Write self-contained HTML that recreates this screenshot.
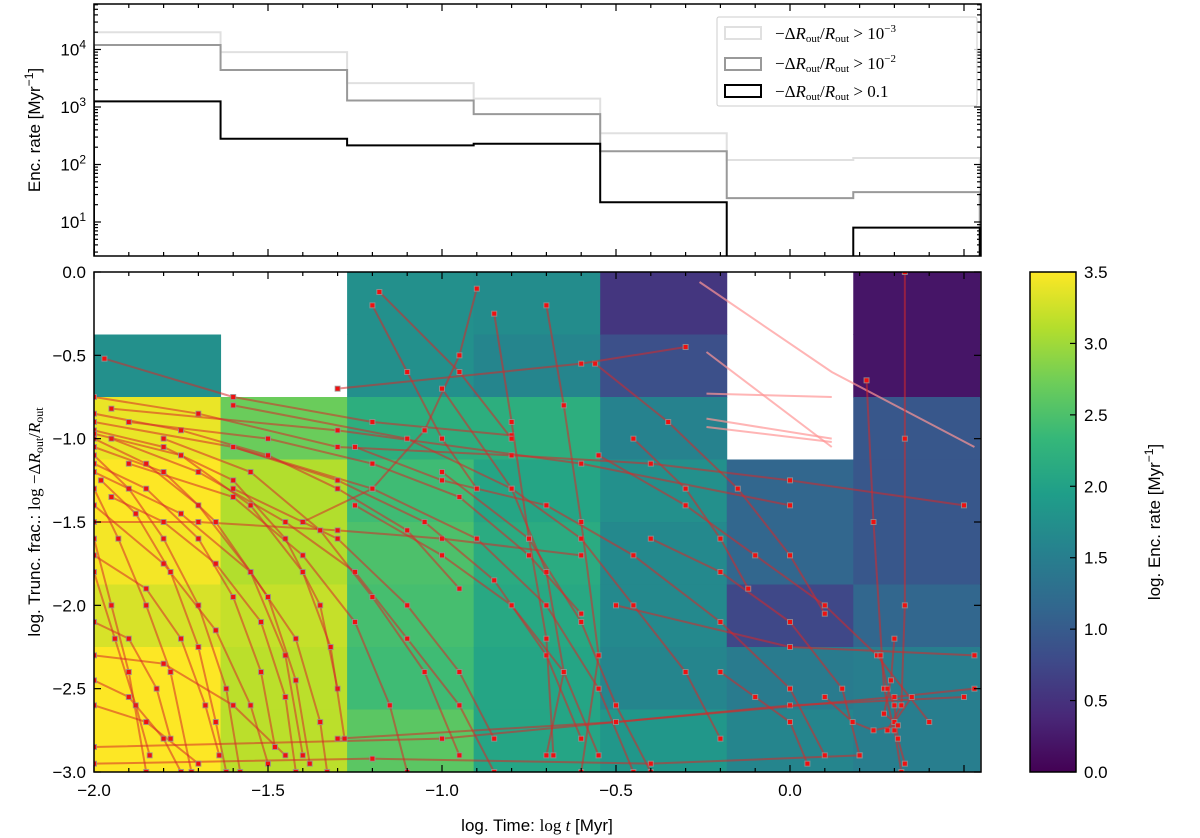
<!DOCTYPE html>
<html><head><meta charset="utf-8">
<style>
body{margin:0;background:#fff;}
svg{display:block;font-family:"Liberation Sans",sans-serif;}
.tl{font-size:17px;fill:#000;}
.m{font-family:"Liberation Serif",serif;}
</style></head>
<body>
<svg id="fig" width="1200" height="838" viewBox="0 0 1200 838" xmlns="http://www.w3.org/2000/svg">
<g id="heat"></g>
<g id="traj"></g>
<g id="steps"></g>
<g id="axes"></g>
<g id="cbar"></g>
<g>
<rect x="717" y="17" width="260" height="89" fill="#fff" fill-opacity="0.8" stroke="#ccc" rx="2"/>
<rect x="725" y="27" width="36" height="12" fill="none" stroke="#e0e0e0" stroke-width="2"/>
<text x="775" y="39" font-size="17" class="m">−Δ<tspan font-style="italic">R</tspan><tspan font-size="11" dy="3">out</tspan><tspan dy="-3">/</tspan><tspan font-style="italic">R</tspan><tspan font-size="11" dy="3">out</tspan><tspan dy="-3"> &gt; 10</tspan><tspan font-size="11" dy="-7">−3</tspan></text>
<rect x="725" y="58" width="36" height="12" fill="none" stroke="#999" stroke-width="2"/>
<text x="775" y="69" font-size="17" class="m">−Δ<tspan font-style="italic">R</tspan><tspan font-size="11" dy="3">out</tspan><tspan dy="-3">/</tspan><tspan font-style="italic">R</tspan><tspan font-size="11" dy="3">out</tspan><tspan dy="-3"> &gt; 10</tspan><tspan font-size="11" dy="-7">−2</tspan></text>
<rect x="725" y="85" width="36" height="12" fill="none" stroke="#000" stroke-width="2"/>
<text x="775" y="97" font-size="17" class="m">−Δ<tspan font-style="italic">R</tspan><tspan font-size="11" dy="3">out</tspan><tspan dy="-3">/</tspan><tspan font-style="italic">R</tspan><tspan font-size="11" dy="3">out</tspan><tspan dy="-3"> &gt; 0.1</tspan></text>
</g>
<text class="tl" transform="translate(40,130) rotate(-90)" text-anchor="middle">Enc. rate [Myr<tspan font-size="12" dy="-7">−1</tspan><tspan dy="7">]</tspan></text>
<text class="tl" transform="translate(40,522) rotate(-90)" text-anchor="middle">log. Trunc. frac.: <tspan class="m">log −Δ</tspan><tspan class="m" font-style="italic">R</tspan><tspan class="m" font-size="12" dy="3">out</tspan><tspan class="m" dy="-3">/</tspan><tspan class="m" font-style="italic">R</tspan><tspan class="m" font-size="12" dy="3">out</tspan></text>
<text class="tl" x="537" y="831" text-anchor="middle">log. Time: <tspan class="m">log </tspan><tspan class="m" font-style="italic">t</tspan> [Myr]</text>
<text class="tl" transform="translate(1160,522) rotate(-90)" text-anchor="middle">log. Enc. rate [Myr<tspan font-size="12" dy="-7">−1</tspan><tspan dy="7">]</tspan></text>
</svg>
<script>
const NS="http://www.w3.org/2000/svg";
// ---- data ----
const binEdges=[-2.0,-1.6363,-1.2727,-0.9090,-0.5454,-0.1818,0.1818,0.5454];
const rowEdges=[0,-0.375,-0.75,-1.125,-1.5,-1.875,-2.25,-2.625,-3.0];
const heatCol0=[null,1.75,3.4,3.5,3.45,3.3,3.5,3.5];
const heatCol1=[null,null,2.7,3.1,3.1,3.2,3.15,3.15];
const heatCol2=[1.75,1.75,2.2,2.4,2.5,2.45,2.4,2.6];
const heatCol3=[1.7,1.6,2.2,2.05,2.15,2.1,2.05,2.05];
const heatCol4=[0.55,0.85,1.55,1.75,1.65,1.65,1.6,1.85];
const heatCol5=[null,null,null,1.15,1.15,0.75,1.45,1.6];
const heatCol6=[0.2,0.2,0.95,0.95,0.95,1.15,1.5,1.5];
const rateLight=[20000,9000,2600,1400,350,120,130];
const rateMid=[12000,4400,1300,750,170,26,33];
const rateDark=[1250,280,215,230,22,0,8];
const xTicks=[-2.0,-1.5,-1.0,-0.5,0.0];
const xTickLabels=["−2.0","−1.5","−1.0","−0.5","0.0"];
const yTicks=[0,-0.5,-1.0,-1.5,-2.0,-2.5,-3.0];
const yTickLabels=["0.0","−0.5","−1.0","−1.5","−2.0","−2.5","−3.0"];
const cTicks=[0,0.5,1,1.5,2,2.5,3,3.5];
const cTickLabels=["0.0","0.5","1.0","1.5","2.0","2.5","3.0","3.5"];
const rTicks=[1,2,3,4];
const tracks=[
[[-2,-0.75],[-1.7,-0.85],[-1.3,-1.05],[-0.8,-1.1],[-0.4,-1.15],[0.0,-1.25],[0.5,-1.4]],
[[-1.97,-0.52],[-1.6,-0.75],[-1.2,-0.9],[-0.8,-0.98]],
[[-2,-0.95],[-1.8,-1.05],[-1.6,-1.25],[-1.45,-1.6],[-1.35,-2.0],[-1.3,-2.5]],
[[-2,-1.0],[-1.85,-1.15],[-1.7,-1.4],[-1.55,-1.8],[-1.45,-2.3],[-1.4,-2.9]],
[[-2,-1.1],[-1.9,-1.3],[-1.8,-1.6],[-1.7,-2.0],[-1.62,-2.5],[-1.58,-3]],
[[-2,-1.3],[-1.93,-1.6],[-1.85,-2.0],[-1.78,-2.4],[-1.72,-3]],
[[-2,-1.6],[-1.95,-2.0],[-1.9,-2.4],[-1.85,-3]],
[[-1.95,-1.0],[-1.7,-1.2],[-1.45,-1.5],[-1.25,-1.8],[-1.1,-2.2],[-0.95,-2.6],[-0.85,-3]],
[[-2,-0.9],[-1.6,-1.05],[-1.2,-1.3],[-0.9,-1.6],[-0.7,-2.0],[-0.55,-2.5],[-0.45,-3]],
[[-2,-1.2],[-1.75,-1.45],[-1.55,-1.8],[-1.42,-2.2],[-1.35,-2.7],[-1.33,-3]],
[[-1.95,-0.82],[-1.3,-0.95],[-0.6,-1.15],[0.0,-1.4]],
[[-2,-2.85],[-1.0,-2.8],[0.0,-2.6],[0.5,-2.55]],
[[-2,-2.95],[-1.2,-2.92],[-0.4,-2.95],[0.2,-2.9]],
[[-1.3,-2.8],[-0.5,-2.7],[0.3,-2.55],[0.53,-2.5]],
[[-1.6,-0.8],[-1.1,-1.0],[-0.8,-1.3],[-0.6,-1.6],[-0.45,-2.0],[-0.3,-2.4],[-0.2,-2.8]],
[[-0.56,-0.55],[-0.35,-0.9],[-0.15,-1.3],[0.0,-1.7],[0.1,-2.05]],
[[-0.55,-1.1],[-0.3,-1.4],[-0.1,-1.7],[0.1,-2.0],[0.25,-2.3],[0.4,-2.7]],
[[0.22,-0.65],[0.24,-1.5],[0.27,-2.5],[0.3,-2.75],[0.32,-3]],
[[0.33,0],[0.33,-1.0],[0.33,-2.0],[0.32,-2.6],[0.28,-2.75]],
[[-0.9,-0.1],[-0.95,-0.5],[-1.05,-0.95],[-1.2,-1.3],[-1.4,-1.5]],
[[-1.18,-0.12],[-0.95,-0.6],[-0.8,-1.0]],
[[-1.3,-0.7],[-0.6,-0.55],[-0.3,-0.45]],
[[-0.7,-0.2],[-0.65,-0.8],[-0.6,-1.5],[-0.55,-2.3],[-0.6,-3]],
[[-1.0,-1.2],[-0.75,-1.6],[-0.6,-2.1],[-0.5,-2.6],[-0.4,-3]],
[[-1.6,-1.3],[-1.3,-1.6],[-1.1,-2.0],[-0.95,-2.4],[-0.85,-2.8]],
[[-2,-1.5],[-1.7,-1.5],[-1.3,-1.55],[-1.0,-1.6],[-0.6,-1.7]],
[[-2,-2.3],[-1.8,-2.35],[-1.6,-2.6],[-1.45,-2.9]],
[[-0.4,-1.6],[-0.2,-1.8],[0.0,-2.1],[0.15,-2.5],[0.2,-2.9]],
[[-1.25,-1.05],[-1.0,-1.25],[-0.7,-1.4],[-0.45,-1.7],[-0.2,-2.1],[0.0,-2.5],[0.1,-2.9]],
[[-0.5,-2.0],[0.0,-2.25],[0.53,-2.3]],
[[-2,-2.6],[-1.85,-2.7],[-1.7,-2.95]],
[[-1.9,-1.15],[-1.6,-1.35],[-1.4,-1.7],[-1.25,-2.1],[-1.15,-2.6],[-1.1,-3]],
[[-2,-1.4],[-1.8,-1.75],[-1.65,-2.15],[-1.55,-2.6],[-1.5,-2.95]],
[[-1.0,-0.7],[-0.8,-1.3],[-0.7,-1.8],[-0.65,-2.4],[-0.7,-2.9]],
[[-2,-0.85],[-1.75,-0.95],[-1.5,-1.1],[-1.3,-1.3],[-1.1,-1.55],[-0.95,-1.9]],
[[-2,-1.05],[-1.8,-1.2],[-1.65,-1.5],[-1.5,-1.95],[-1.42,-2.45],[-1.38,-2.95]],
[[-1.98,-1.25],[-1.88,-1.45],[-1.78,-1.8],[-1.7,-2.25],[-1.65,-2.7],[-1.62,-3]],
[[-2,-1.8],[-1.94,-2.2],[-1.88,-2.6],[-1.84,-2.9]],
[[-2,-0.97],[-1.75,-1.1],[-1.55,-1.4],[-1.4,-1.8],[-1.32,-2.25],[-1.28,-2.8]],
[[-1.95,-1.35],[-1.8,-1.5],[-1.65,-1.75],[-1.52,-2.1],[-1.45,-2.55],[-1.42,-3]],
[[-2,-2.1],[-1.9,-2.2],[-1.82,-2.5],[-1.78,-2.8]],
[[-2,-1.15],[-1.85,-1.3],[-1.7,-1.6],[-1.6,-1.95],[-1.52,-2.4],[-1.48,-2.85]],
[[-1.9,-0.9],[-1.5,-1.0],[-1.2,-1.15],[-0.95,-1.35],[-0.75,-1.7],[-0.6,-2.05]],
[[-2,-1.7],[-1.85,-1.9],[-1.75,-2.2],[-1.68,-2.6],[-1.64,-2.9]],
[[-2,-2.45],[-1.9,-2.55],[-1.8,-2.8],[-1.75,-3]],
[[-1.8,-1.0],[-1.55,-1.2],[-1.35,-1.55],[-1.2,-1.95],[-1.05,-2.4],[-0.95,-2.9]],
[[-1.6,-1.05],[-1.3,-1.25],[-1.05,-1.5],[-0.85,-1.85],[-0.7,-2.3],[-0.6,-2.8]],
[[-1.25,-1.4],[-1.0,-1.7],[-0.8,-2.0],[-0.65,-2.4],[-0.55,-2.9]],
[[-1.2,-0.2],[-1.1,-0.6],[-1.0,-1.0],[-0.9,-1.3]],
[[-0.85,-0.25],[-0.8,-0.9],[-0.75,-1.6],[-0.7,-2.2],[-0.68,-2.9]],
[[0.26,-2.3],[0.28,-2.5],[0.3,-2.6],[0.31,-2.8],[0.33,-2.95]],
[[0.3,-2.2],[0.29,-2.45],[0.27,-2.65],[0.3,-2.7],[0.35,-2.55]],
[[0.1,-2.55],[0.18,-2.7],[0.24,-2.75],[0.31,-2.72]],
[[-0.45,-1.0],[-0.3,-1.3],[-0.2,-1.6],[-0.12,-1.9]],
[[-0.2,-2.4],[-0.1,-2.55],[0.0,-2.7],[0.05,-2.95]]
];
const pinkTracks=[
[[-0.26,-0.06],[0.12,-0.6],[0.53,-1.05]],
[[-0.24,-0.48],[0.12,-1.05]],
[[-0.24,-0.73],[0.12,-0.75]],
[[-0.24,-0.88],[0.12,-1.0]],
[[-0.24,-0.93],[0.12,-1.02]]
];
const heatCols=[heatCol0,heatCol1,heatCol2,heatCol3,heatCol4,heatCol5,heatCol6];
// ---- scales ----
const X0=94,X1=981,BY0=272,BY1=772,TY0=4,TY1=256;
const xs=v=>X0+(v+2)*348;
const ys=v=>BY0-v*166.67;
const ry=v=>222-(Math.log10(v)-1)*57.5;
const cy=v=>BY1-v/3.5*500;
const VIR=[[68,1,84],[72,40,120],[62,74,137],[49,104,142],[38,130,142],[31,158,137],[53,183,121],[109,205,89],[180,222,44],[253,231,37]];
function vir(t){t=Math.max(0,Math.min(1,t));const p=t*9,i=Math.min(8,Math.floor(p)),f=p-i;const a=VIR[i],b=VIR[i+1];return `rgb(${a.map((c,k)=>Math.round(c+(b[k]-c)*f)).join(',')})`;}
function el(tag,attrs,parent){const e=document.createElementNS(NS,tag);for(const k in attrs)e.setAttribute(k,attrs[k]);parent.appendChild(e);return e;}
const heat=document.getElementById('heat');
heatCols.forEach((col,ci)=>col.forEach((v,ri)=>{if(v===null)return;
 const x=xs(binEdges[ci]),x2=xs(binEdges[ci+1]),y=ys(rowEdges[ri]),y2=ys(rowEdges[ri+1]);
 const r=el('rect',{x:x,y:y,width:x2-x+0.5,height:y2-y+0.5,fill:vir(v/3.5)},heat);
 
 
}));
const fig=document.getElementById('fig');
const cpb=el('clipPath',{id:'botclip'},fig);el('rect',{x:X0,y:BY0,width:X1-X0,height:BY1-BY0},cpb);
const tg=document.getElementById('traj');tg.setAttribute('clip-path','url(#botclip)');
pinkTracks.forEach(t=>{const p=el('polyline',{points:t.map(q=>xs(q[0])+','+ys(q[1])).join(' '),fill:'none',stroke:'rgba(255,150,150,0.7)','stroke-width':2},tg);
 
 });
tracks.forEach(t=>{const p=el('polyline',{points:t.map(q=>xs(q[0])+','+ys(q[1])).join(' '),fill:'none',stroke:'rgba(215,40,40,0.55)','stroke-width':2},tg);
 
 
 t.forEach(q=>{const m=el('rect',{x:xs(q[0])-2.5,y:ys(q[1])-2.5,width:5,height:5,fill:'#f01010',stroke:'rgba(150,150,150,0.8)','stroke-width':1},tg);
  
  });});
const sg=document.getElementById('steps');
[[rateLight,'#e0e0e0'],[rateMid,'#999'],[rateDark,'#000']].forEach(([arr,c])=>{
 let d='';arr.forEach((v,i)=>{const y=v>0?ry(v):TY1+5;const xa=xs(binEdges[i]),xb=xs(binEdges[i+1]);
  d+=(i===0?`M${xa},${TY1+5}L${xa},${y}`:`L${xa},${y}`)+`L${xb},${y}`;});
 d+=`L${xs(binEdges[7])},${TY1+5}`;
 const p=el('path',{d:d,fill:'none',stroke:c,'stroke-width':2},sg);
 
 });
const cp=el('clipPath',{id:'topclip'},fig);el('rect',{x:X0,y:TY0,width:X1-X0,height:TY1-TY0},cp);sg.setAttribute('clip-path','url(#topclip)');
const ax=document.getElementById('axes');
function frame(y0,y1,name){const r=el('rect',{x:X0,y:y0,width:X1-X0,height:y1-y0,fill:'none',stroke:'#000','stroke-width':1.5},ax);
 
 }
frame(TY0,TY1,'top-panel-frame');frame(BY0,BY1,'bottom-panel-frame');
function line(x1,y1,x2,y2,w){el('line',{x1,y1,x2,y2,stroke:'#000','stroke-width':w||1},ax);}
for(let v=-2.0;v<=0.55;v+=0.1){const x=xs(Math.round(v*10)/10);const major=Math.abs(Math.round(v*10)%5)===0;const L=major?7:4;
 [[TY0,1],[TY1,-1],[BY0,1],[BY1,-1]].forEach(([y,s])=>line(x,y,x,y+s*L,1.2));}
xTicks.forEach((v,i)=>{const t=el('text',{x:xs(v),y:BY1+24,'text-anchor':'middle',class:'tl'},ax);t.textContent=xTickLabels[i];
 
 });
yTicks.forEach((v,i)=>{const y=ys(v);line(X0,y,X0+7,y,1.2);line(X1,y,X1-7,y,1.2);
 const t=el('text',{x:X0-8,y:y+6,'text-anchor':'end',class:'tl'},ax);t.textContent=yTickLabels[i];
 
 });
for(let d=0;d<=4;d++){for(let k=1;k<10;k++){const v=k*Math.pow(10,d);const y=ry(v);if(y<TY0||y>TY1)continue;const L=k===1?7:4;line(X0,y,X0+L,y,1.2);line(X1,y,X1-L,y,1.2);}}
rTicks.forEach(p=>{const y=ry(Math.pow(10,p));const t=el('text',{x:X0-8,y:y+6,'text-anchor':'end',class:'tl'},ax);
 t.innerHTML=`10<tspan font-size="12" dy="-7">${p}</tspan>`;
 
 });
const cb=document.getElementById('cbar');
const defs=el('defs',{},cb);const g=el('linearGradient',{id:'vg',x1:0,y1:1,x2:0,y2:0},defs);
VIR.forEach((c,i)=>el('stop',{offset:i/9,'stop-color':`rgb(${c.join(',')})`},g));
const cr=el('rect',{x:1030,y:BY0,width:46,height:BY1-BY0,fill:'url(#vg)',stroke:'#000','stroke-width':1.5},cb);


cTicks.forEach((v,i)=>{const y=cy(v);el('line',{x1:1076,y1:y,x2:1070,y2:y,stroke:'#000','stroke-width':1.2},cb);
 const t=el('text',{x:1084,y:y+6,class:'tl'},cb);t.textContent=cTickLabels[i];
 
 });
</script>
</body></html>
